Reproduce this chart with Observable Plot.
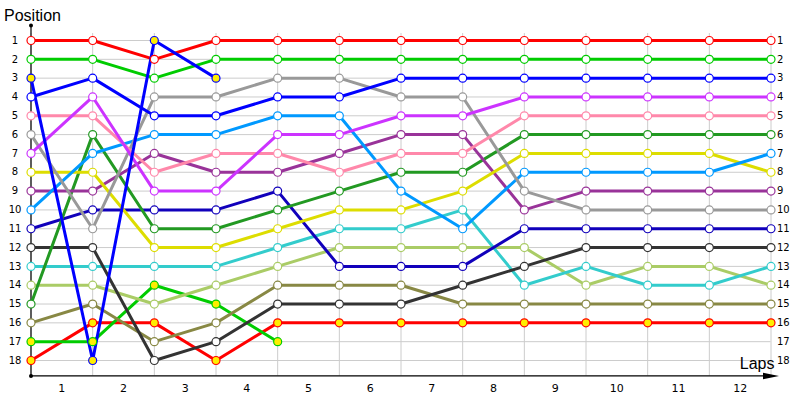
<!DOCTYPE html>
<html>
<head>
<meta charset="utf-8">
<script src="https://cdn.jsdelivr.net/npm/d3@7"></script>
<script src="https://cdn.jsdelivr.net/npm/@observablehq/plot@0.6"></script>
<style>
  html, body { margin: 0; padding: 0; background: #ffffff; }
  #chart { width: 800px; height: 400px; }
</style>
</head>
<body>
<div id="chart"></div>
<script>
// Lap boundaries (0 = start) and lap labels
const lapPoints = [0, 1, 2, 3, 4, 5, 6, 7, 8, 9, 10, 11, 12];
const lapLabels = ["1", "2", "3", "4", "5", "6", "7", "8", "9", "10", "11", "12"];
const positions = [1, 2, 3, 4, 5, 6, 7, 8, 9, 10, 11, 12, 13, 14, 15, 16, 17, 18];

// Series positions at each lap point
const redY       = [18, 16, 16, 18, 16, 16, 16, 16, 16, 16, 16, 16, 16];
const greenY     = [17, 17, 14, 15, 17];
const olive      = [16, 15, 17, 16, 14, 14, 14, 15, 15, 15, 15, 15, 15];
const lightGreen = [14, 14, 15, 14, 13, 12, 12, 12, 12, 14, 13, 13, 14];
const cyan       = [13, 13, 13, 13, 12, 11, 11, 10, 14, 13, 14, 14, 13];
const darkGray   = [12, 12, 18, 17, 15, 15, 15, 14, 13, 12, 12, 12, 12];
const navy       = [11, 10, 10, 10, 9, 13, 13, 13, 11, 11, 11, 11, 11];
const darkGreen  = [15, 6, 11, 11, 10, 9, 8, 8, 6, 6, 6, 6, 6];
const darkPurple = [9, 9, 7, 8, 8, 7, 6, 6, 10, 9, 9, 9, 9];
const yellow     = [8, 8, 12, 12, 11, 10, 10, 9, 7, 7, 7, 7, 8];
const lightBlue  = [10, 7, 6, 6, 5, 5, 9, 11, 8, 8, 8, 8, 7];
const gray       = [6, 11, 4, 4, 3, 3, 4, 4, 9, 10, 10, 10, 10];
const pink       = [5, 5, 8, 7, 7, 8, 7, 7, 5, 5, 5, 5, 5];
const violet     = [7, 4, 9, 9, 6, 6, 5, 5, 4, 4, 4, 4, 4];
const blue       = [4, 3, 5, 5, 4, 4, 3, 3, 3, 3, 3, 3, 3];
const green      = [2, 2, 3, 2, 2, 2, 2, 2, 2, 2, 2, 2, 2];
const red        = [1, 1, 2, 1, 1, 1, 1, 1, 1, 1, 1, 1, 1];
const blueY      = [3, 18, 1, 3];

const seriesNames  = ["redY", "greenY", "olive", "lightGreen", "cyan", "darkGray", "navy", "darkGreen", "darkPurple", "yellow", "lightBlue", "gray", "pink", "violet", "blue", "green", "red", "blueY"];
const seriesValues = [redY, greenY, olive, lightGreen, cyan, darkGray, navy, darkGreen, darkPurple, yellow, lightBlue, gray, pink, violet, blue, green, red, blueY];
const seriesColors = ["#ff0000", "#00cc00", "#888844", "#aacc66", "#33cccc", "#333333", "#1100bb", "#229922", "#993399", "#dddd00", "#0099ff", "#999999", "#ff88aa", "#cc33ff", "#0000ff", "#00cc00", "#ff0000", "#0000ff"];
const markerFills  = ["#ffee00", "#ffee00", "white", "white", "white", "white", "white", "white", "white", "white", "white", "white", "white", "white", "white", "white", "white", "#ffee00"];

// Build table
const rows = [];
seriesNames.forEach((name, i) => {
  seriesValues[i].forEach((p, j) => {
    rows.push({series: name, order: i, lap: lapPoints[j], pos: p, color: seriesColors[i], fill: markerFills[i]});
  });
});

const rightLabels = positions.map(p => ({pos: p, label: String(p)}));
const xLabels = lapLabels.map((l, i) => ({x: i + 0.5, label: l}));

const arrowHead = {
  draw(context) {
    context.moveTo(-8, -3.2);
    context.lineTo(8, 0);
    context.lineTo(-8, 3.2);
    context.closePath();
  }
};

const axisBottom = 18.82;
const axisTop = 0.2;

const lineMarks = seriesNames.map((name, i) =>
  Plot.line(rows.filter(d => d.series === name), {x: "lap", y: "pos", stroke: seriesColors[i], strokeWidth: 3, curve: "linear"})
);
const dotMarks = seriesNames.map((name, i) =>
  Plot.dot(rows.filter(d => d.series === name), {x: "lap", y: "pos", r: 4, fill: markerFills[i], stroke: seriesColors[i], strokeWidth: 1.2})
);

const chart = Plot.plot({
  width: 800,
  height: 400,
  marginLeft: 30.5,
  marginRight: 29.5,
  marginTop: 40,
  marginBottom: 40,
  x: {domain: [0, 12], range: [30.5, 770.5], axis: null},
  y: {domain: [1, 18], range: [40, 360], axis: null},
  style: {fontFamily: "'DejaVu Sans', Tahoma, sans-serif", background: "white", overflow: "visible"},
  marks: [
    // gridlines
    Plot.ruleY(positions, {y: d => d, x1: 0, x2: 12, stroke: "#cccccc", strokeWidth: 1}),
    Plot.ruleX(lapPoints, {x: d => d, y1: 0.63, y2: axisBottom, stroke: "#cccccc", strokeWidth: 1}),
    // axes
    Plot.ruleX([0], {y1: axisTop, y2: axisBottom, stroke: "black", strokeWidth: 1.2}),
    Plot.ruleY([axisBottom], {x1: 0, x2: 12, stroke: "black", strokeWidth: 1.2}),
    Plot.dot([{x: 0, y: axisTop}, {x: 0, y: axisBottom}], {x: "x", y: "y", r: 2, fill: "black"}),
    Plot.dot([{x: 12, y: axisBottom}], {x: "x", y: "y", symbol: arrowHead, fill: "black", r: 3}),
    // tick labels
    Plot.text(positions, {x: 0, y: d => d, text: d => String(d), dx: -16, textAnchor: "middle", fontSize: 10, fill: "black"}),
    Plot.text(rightLabels, {x: 12, y: "pos", text: "label", dx: 6, textAnchor: "start", fontSize: 10, fill: "black"}),
    Plot.text(xLabels, {x: "x", y: 19.5, text: "label", fontSize: 11, fill: "black"}),
    // axis titles
    Plot.text(["Position"], {x: 0, y: -0.3, dx: -27, text: d => d, textAnchor: "start", fontSize: 16, fontFamily: "'Liberation Sans', Arial, sans-serif", fill: "black"}),
    Plot.text(["Laps"], {x: 12, y: 18.2, dx: 3.5, text: d => d, textAnchor: "end", fontSize: 16, fontFamily: "'Liberation Sans', Arial, sans-serif", fill: "black"}),
    // series
    ...lineMarks,
    ...dotMarks
  ]
});

document.getElementById("chart").appendChild(chart);
</script>
</body>
</html>
